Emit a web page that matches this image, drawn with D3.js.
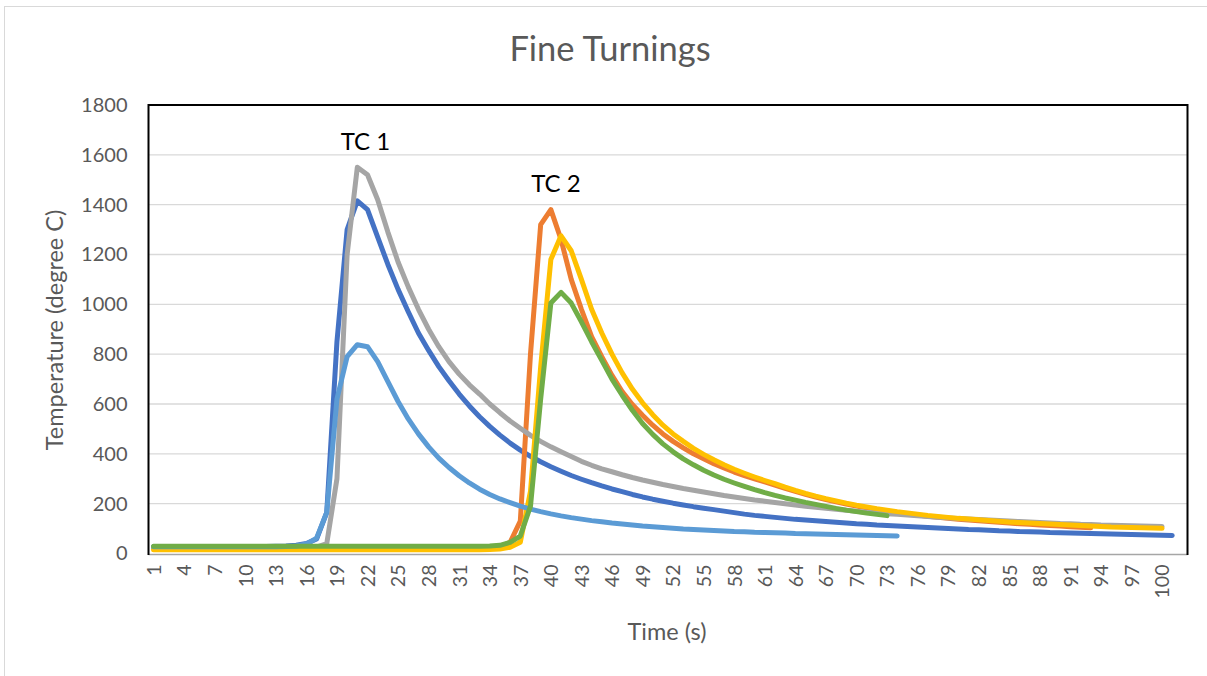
<!DOCTYPE html>
<html>
<head>
<meta charset="utf-8">
<script src="https://cdn.jsdelivr.net/npm/d3@7"></script>
<style>
  html, body { margin: 0; padding: 0; background: #ffffff; }
  svg { display: block; }
  text { font-family: Lato, "Open Sans", sans-serif; }
</style>
</head>
<body>
<svg id="chart" width="1207" height="676"></svg>
<script>
// ---------------- DATA ----------------
const categories = d3.range(1, 103); // Time (s) categories 1..102
const xTickLabels = [1,4,7,10,13,16,19,22,25,28,31,34,37,40,43,46,49,52,55,58,61,64,67,70,73,76,79,82,85,88,91,94,97,100];
const yTickLabels = [0,200,400,600,800,1000,1200,1400,1600,1800];

const seriesDarkBlue = [
  27,27,27,27,27,27,27,27,27,27,
  27,28,29,30,33,40,58,165,850,1300,
  1415,1380,1270,1160,1060,970,885,815,750,693,
  640,592,549,510,475,443,415,390,368,348,
  330,313,298,284,271,259,248,237,227,218,
  210,202,195,188,182,176,170,164,158,153,
  149,145,141,137,134,131,128,125,122,119,
  117,114,112,110,108,106,104,102,100,98,
  96,95,93,91,90,88,87,86,84,83,
  82,81,80,79,78,77,76,75,74,73,
  72
];
const seriesOrange = [
  20,20,20,20,20,20,20,20,20,20,
  20,20,20,20,20,20,20,20,20,20,
  20,20,20,20,20,20,20,20,20,20,
  20,20,21,22,25,45,130,800,1320,1380,
  1260,1100,980,870,790,715,650,598,555,515,
  480,450,424,400,380,360,343,327,313,300,
  287,274,261,249,237,226,216,207,198,190,
  183,176,170,164,159,154,149,145,141,137,
  134,131,128,125,122,119,117,114,112,110,
  107,105,103
];
const seriesGray = [
  25,25,25,25,25,25,25,25,25,25,
  25,25,25,25,25,25,26,40,300,1200,
  1550,1520,1420,1290,1170,1070,980,900,830,770,
  720,677,640,600,565,532,503,474,450,428,
  408,389,370,354,340,328,316,305,295,286,
  277,269,261,254,247,240,233,227,221,215,
  210,205,200,195,190,186,182,178,174,170,
  166,163,160,157,154,151,148,145,143,140,
  138,136,134,132,130,128,126,124,122,120,
  119,117,116,114,113,112,111,110,109,108
];
const seriesYellow = [
  15,15,15,15,15,15,15,15,15,15,
  15,15,15,15,15,15,15,15,15,15,
  15,15,15,15,15,15,15,15,15,15,
  15,15,15,16,18,25,45,250,750,1180,
  1275,1215,1100,980,885,800,725,660,605,557,
  515,480,450,422,398,376,356,338,322,307,
  293,280,266,253,241,230,220,211,202,194,
  187,180,174,168,163,158,153,149,145,141,
  138,135,132,129,126,124,122,120,118,116,
  114,112,110,108,106,105,104,103,102,101
];
const seriesLightBlue = [
  27,27,27,27,27,27,27,27,27,27,
  27,27,27,28,30,38,62,165,620,790,
  838,830,770,690,610,540,480,428,383,345,
  312,283,258,237,219,204,190,178,168,159,
  151,144,138,132,127,122,118,114,110,107,
  104,101,98,96,94,92,90,88,87,85,
  84,83,82,80,79,78,77,76,75,74,
  73,72,71,70
];
const seriesGreen = [
  29,29,29,29,29,29,29,29,29,29,
  29,29,29,29,29,29,29,29,29,29,
  29,29,29,29,29,29,29,29,29,29,
  29,29,29,30,33,45,70,190,620,1005,
  1048,1005,930,850,775,700,635,575,522,478,
  440,408,380,356,334,315,298,283,269,256,
  244,233,223,214,205,197,189,181,174,168,
  162,157,152
];

const seriesList = [
  { values: seriesDarkBlue,  color: "#4472C4" },
  { values: seriesOrange,    color: "#ED7D31" },
  { values: seriesGray,      color: "#A5A5A5" },
  { values: seriesYellow,    color: "#FFC000" },
  { values: seriesLightBlue, color: "#5B9BD5" },
  { values: seriesGreen,     color: "#70AD47" }
];

const annotations = [
  { text: "TC 1", cat: 21.8, value: 1620 },
  { text: "TC 2", cat: 40.5, value: 1452 }
];

// ---------------- LAYOUT ----------------
const svg = d3.select("#chart");
const plot = { left: 148.5, right: 1187.5, top: 105, bottom: 553.5 };

// chart area border
svg.append("rect")
  .attr("x", 4.5).attr("y", 6.5)
  .attr("width", 1220).attr("height", 690)
  .attr("fill", "#ffffff")
  .attr("stroke", "#D9D9D9").attr("stroke-width", 1);

const x = d3.scalePoint().domain(categories).range([plot.left, plot.right]).padding(0.5);
const xLin = d3.scaleLinear().domain([1, 102]).range([x(1), x(102)]);
const y = d3.scaleLinear().domain([0, 1800]).range([plot.bottom, plot.top]);

// gridlines
svg.append("g").selectAll("line")
  .data(yTickLabels.filter(v => v > 0))
  .join("line")
  .attr("x1", plot.left).attr("x2", plot.right)
  .attr("y1", d => y(d)).attr("y2", d => y(d))
  .attr("stroke", "#D9D9D9").attr("stroke-width", 1.3);

// y axis labels
const yAxis = svg.append("g")
  .attr("transform", `translate(${plot.left},0)`)
  .call(d3.axisLeft(y).tickValues(yTickLabels).tickFormat(d3.format("d")).tickSize(0).tickPadding(21));
yAxis.select(".domain").remove();
yAxis.selectAll("text")
  .attr("fill", "#595959")
  .style("font-family", "Lato, sans-serif")
  .style("font-size", "20px");

// x axis labels
const xAxis = svg.append("g")
  .attr("transform", `translate(0,${plot.bottom})`)
  .call(d3.axisBottom(x).tickValues(xTickLabels).tickSize(0));
xAxis.select(".domain").remove();
xAxis.selectAll("text")
  .attr("transform", "rotate(-90)")
  .attr("x", -11).attr("y", 0).attr("dy", "0.35em")
  .style("text-anchor", "end")
  .attr("fill", "#595959")
  .style("font-family", "Lato, sans-serif")
  .style("font-size", "19.5px");

// series lines
const line = d3.line()
  .x((d, i) => x(categories[i]))
  .y(d => y(d));

svg.append("g").selectAll("path")
  .data(seriesList)
  .join("path")
  .attr("d", s => line(s.values))
  .attr("fill", "none")
  .attr("stroke", s => s.color)
  .attr("stroke-width", 5)
  .attr("stroke-linejoin", "round")
  .attr("stroke-linecap", "round");

// bottom axis line (gray)
svg.append("line")
  .attr("x1", plot.left).attr("x2", plot.right)
  .attr("y1", plot.bottom + 1).attr("y2", plot.bottom + 1)
  .attr("stroke", "#A6A6A6").attr("stroke-width", 1.5);

// plot area border (black, top/left/right)
svg.append("path")
  .attr("d", `M${plot.left},${plot.bottom + 1.5} V${plot.top} H${plot.right} V${plot.bottom + 1.5}`)
  .attr("fill", "none")
  .attr("stroke", "#000000").attr("stroke-width", 2);

// annotations
svg.append("g").selectAll("text")
  .data(annotations)
  .join("text")
  .attr("x", d => xLin(d.cat))
  .attr("y", d => y(d.value))
  .attr("text-anchor", "middle")
  .attr("fill", "#000000")
  .style("font-size", "24px")
  .text(d => d.text);

// title
svg.append("text")
  .attr("x", 610).attr("y", 61)
  .attr("text-anchor", "middle")
  .attr("fill", "#595959")
  .style("font-size", "34.5px")
  .text("Fine Turnings");

// axis titles
svg.append("text")
  .attr("transform", "translate(63,330) rotate(-90)")
  .attr("text-anchor", "middle")
  .attr("fill", "#595959")
  .style("font-size", "23.5px")
  .text("Temperature (degree C)");

svg.append("text")
  .attr("x", 667).attr("y", 640)
  .attr("text-anchor", "middle")
  .attr("fill", "#595959")
  .style("font-size", "23.5px")
  .text("Time (s)");
</script>
</body>
</html>
